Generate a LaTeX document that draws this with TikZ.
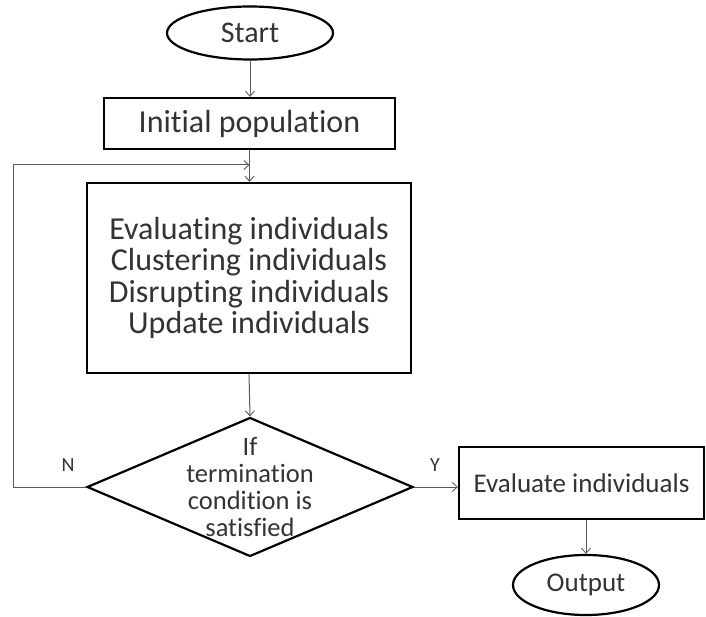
\documentclass[tikz,border=0pt]{standalone}
\usepackage{fontspec}
\setmainfont{Carlito}[Ligatures=NoCommon]
\usetikzlibrary{arrows.meta,shapes.geometric}
\definecolor{txt}{HTML}{333333}
\definecolor{lin}{HTML}{5A5A5A}
\begin{document}
\begin{tikzpicture}[x=1pt,y=-1pt,
  box/.style={draw=black, line width=2.2pt, fill=white, inner sep=0pt, text=txt},
  term/.style={ellipse, draw=black, line width=2.2pt, fill=white, inner sep=0pt, text=txt},
  conn/.style={draw=lin, line width=1pt, -{Straight Barb[length=5pt,width=9pt,line width=0.9pt]}},
  lab/.style={text=txt, font=\fontsize{20}{24}\selectfont}
]
\useasboundingbox (0,0) rectangle (706,617);
\node[term, minimum width=166pt, minimum height=53pt, font=\fontsize{30}{34}\selectfont] (start) at (250,33) {Start};
\node[box, minimum width=291pt, minimum height=51pt, font=\fontsize{32}{36}\selectfont] (init) at (249.5,123.5) {Initial population};
\node[box, minimum width=324pt, minimum height=190pt, align=center, font=\fontsize{32}{31.5}\selectfont] (proc) at (249,278) {Evaluating individuals\\Clustering individuals\\Disrupting individuals\\Update individuals};
\node[diamond, draw=black, line width=2.2pt, fill=white, minimum width=326pt, minimum height=139pt, inner sep=0pt] (cond) at (250,487) {};
\node[align=center, text=txt, font=\fontsize{26.5}{27}\selectfont] (condtxt) at (250,487) {If\\termination\\condition is\\satisfied};
\node[box, minimum width=245pt, minimum height=72pt, font=\fontsize{27}{30}\selectfont] (ev) at (581.5,483) {Evaluate individuals};
\node[term, minimum width=146pt, minimum height=60pt, font=\fontsize{27}{30}\selectfont] (out) at (586,585) {Output};
\coordinate (lp) at (13,165);
\coordinate (lj) at (249.5,165);
\draw[conn] (start.south) -- (start.south |- init.north);
\draw[conn] (init.south) -- (init.south |- proc.north);
\draw[conn] (cond.west) -| (lp) -- (lj);
\draw[conn] (proc.south) -- (cond.north);
\draw[conn] (cond.east) -- (cond.east -| ev.west);
\draw[conn] (out.north |- ev.south) -- (out.north);
\node[lab] (nlab) at (68,465) {N};
\node[lab] (ylab) at (435,465) {Y};
\end{tikzpicture}
\end{document}
